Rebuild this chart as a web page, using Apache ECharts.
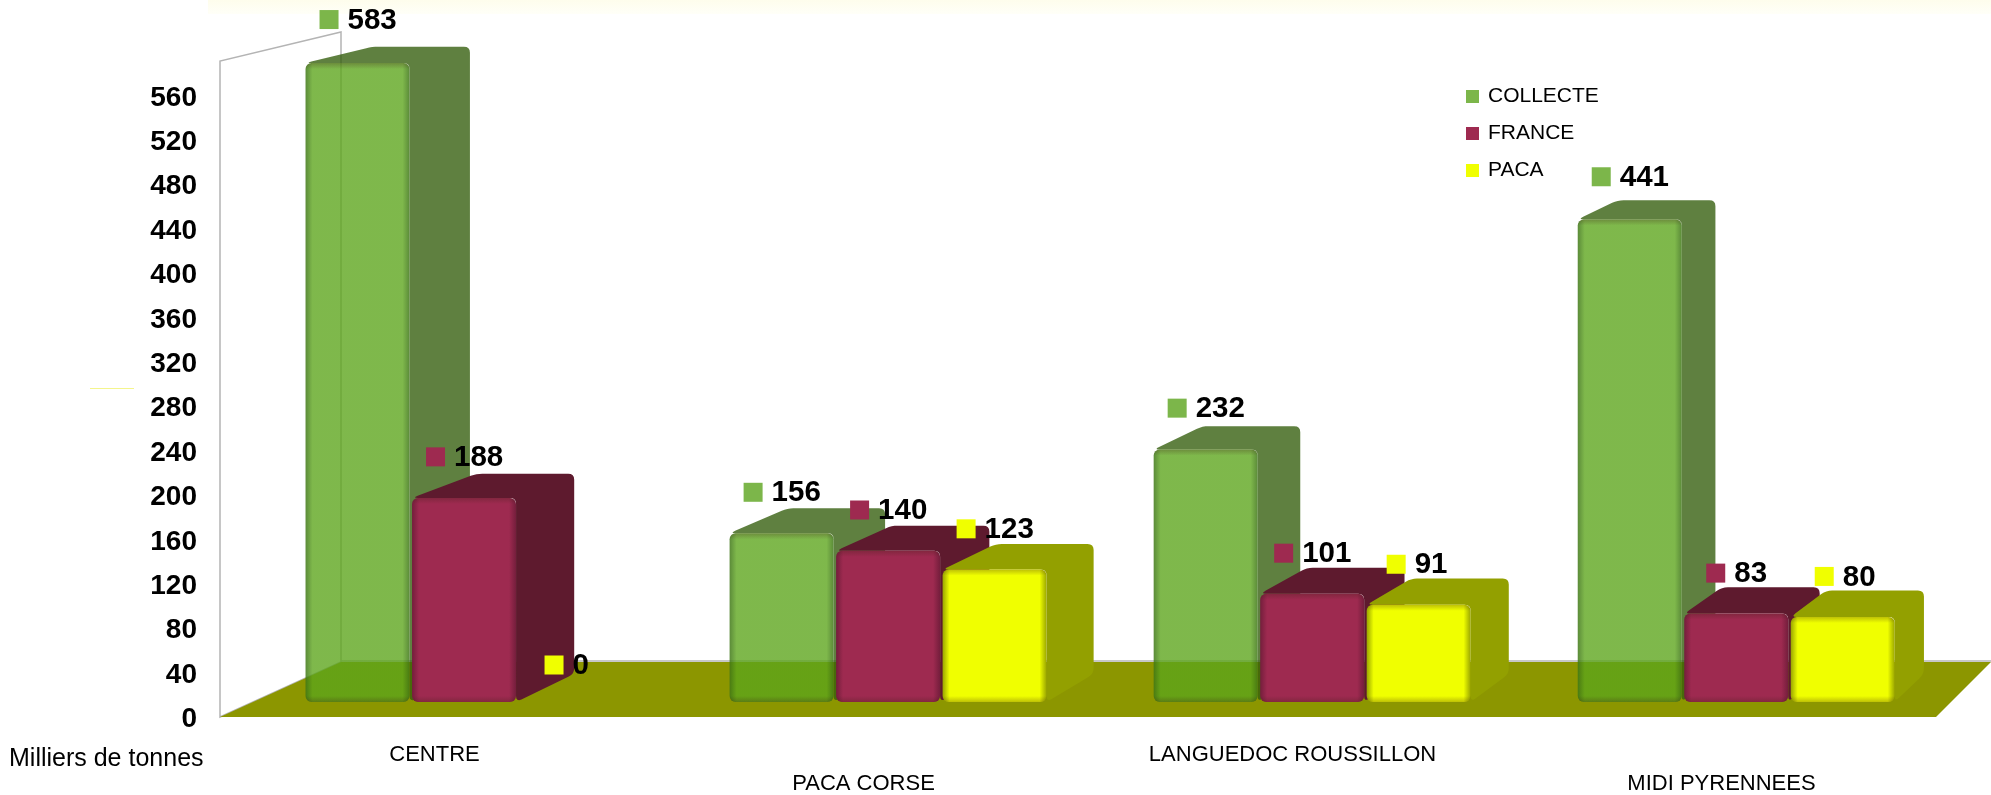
<!DOCTYPE html>
<html>
<head>
<meta charset="utf-8">
<style>
  html, body { margin: 0; padding: 0; background: #fff; }
  #main { width: 1991px; height: 795px; }
</style>
<script src="https://cdn.jsdelivr.net/npm/echarts@6/dist/echarts.min.js"></script>
</head>
<body>
<div id="main"></div>
<script>
const categories = ['CENTRE', 'PACA CORSE', 'LANGUEDOC ROUSSILLON', 'MIDI PYRENNEES']
const collecte = [583, 156, 232, 441]
const france = [188, 140, 101, 83]
const paca = [0, 123, 91, 80]
const yTicks = [0, 40, 80, 120, 160, 200, 240, 280, 320, 360, 400, 440, 480, 520, 560]

const FONT = '"Liberation Sans", Arial, sans-serif'

// face colours per series: front, edge of the front, side + top
const looks = [
    { name: 'COLLECTE', data: collecte, legend: '#7CB64A', front: 'rgba(92,165,27,0.79)', edge: 'rgba(62,118,22,0.85)', side: 'rgba(52,94,13,0.79)' },
    { name: 'FRANCE', data: france, legend: '#9E2A50', front: '#9E2A50', edge: '#741E3C', side: '#5E1A2E' },
    { name: 'PACA', data: paca, legend: '#F0FF00', front: '#F0FF00', edge: '#9AA600', side: '#93A000' },
]

// the bars stand a bit behind the front edge of the floor, so they are slightly smaller
const PLANE = 0.9885
const BAR_W = 104
const BASE_LIFT = 15

function planeX(x, gridLeft) {
    return gridLeft + 32 + (x - gridLeft) * PLANE
}
function depthX(x) {
    return 69 - 0.021 * x
}
function depthY(v) {
    return 28 - 0.02 * v
}

// polygon with small rounded corners
function roundPoly(pts, r) {
    const out = []
    const n = pts.length
    for (let i = 0; i < n; i++) {
        const p = pts[i], a = pts[(i + n - 1) % n], b = pts[(i + 1) % n]
        const la = Math.hypot(a[0] - p[0], a[1] - p[1]), lb = Math.hypot(b[0] - p[0], b[1] - p[1])
        const ra = Math.min(r, la / 2), rb = Math.min(r, lb / 2)
        const s = [p[0] + (a[0] - p[0]) / la * ra, p[1] + (a[1] - p[1]) / la * ra]
        const e = [p[0] + (b[0] - p[0]) / lb * rb, p[1] + (b[1] - p[1]) / lb * rb]
        for (let t = 0; t <= 1.001; t += 0.25) {
            const u = 1 - t
            out.push([u * u * s[0] + 2 * u * t * p[0] + t * t * e[0], u * u * s[1] + 2 * u * t * p[1] + t * t * e[1]])
        }
    }
    return out
}

function barGeom(api, params, s, catIdx, v) {
    const gridLeft = params.coordSys.x
    const c = planeX(api.coord([catIdx, 0])[0], gridLeft)
    const zero = api.coord([catIdx, 0])[1]
    const base = zero - BASE_LIFT
    const top = base - (zero - api.coord([catIdx, v])[1]) * 0.992 + 3
    const left = c - BAR_W / 2 + (s - 1) * 106.5
    const right = left + BAR_W
    return { left, right, top, base, dx: depthX(right), dy: depthY(v) }
}

function renderBar(s) {
    return function (params, api) {
        const v = api.value(1)
        if (v === 0) return { type: 'group', children: [] }
        const g = barGeom(api, params, s, api.value(0), v)
        const look = looks[s]
        const shell = roundPoly([
            [g.left, g.top], [g.left + depthX(g.left) + 4, g.top - g.dy], [g.right + g.dx, g.top - g.dy],
            [g.right + g.dx, g.base - depthY(0)], [g.right, g.base], [g.right, g.top],
        ], 6)
        const h = g.base - g.top
        const fade = 7 / BAR_W, fadeY = 6 / h
        return {
            type: 'group',
            children: [
                { type: 'polygon', shape: { points: shell }, style: { fill: look.side } },
                {
                    type: 'rect',
                    shape: { x: g.left, y: g.top, width: BAR_W, height: h, r: 6 },
                    style: {
                        fill: {
                            type: 'linear', x: 0, y: 0, x2: 1, y2: 0,
                            colorStops: [
                                { offset: 0, color: look.edge }, { offset: fade, color: look.front },
                                { offset: 1 - fade, color: look.front }, { offset: 1, color: look.edge },
                            ],
                        },
                    },
                },
                {
                    type: 'rect',
                    shape: { x: g.left, y: g.top, width: BAR_W, height: h, r: 6 },
                    style: {
                        fill: {
                            type: 'linear', x: 0, y: 0, x2: 0, y2: 1,
                            colorStops: [
                                { offset: 0, color: 'rgba(60,30,20,0.28)' }, { offset: fadeY, color: 'rgba(60,30,20,0)' },
                                { offset: 1 - fadeY, color: 'rgba(60,30,20,0)' }, { offset: 1, color: 'rgba(60,30,20,0.28)' },
                            ],
                        },
                    },
                },
            ],
        }
    }
}

// red and yellow labels drift right of their bars further along the chart
const labelNudge = { '0-2': 12, '2-2': 6, '3-1': 8, '3-2': 10 }

function renderLabel(s) {
    return function (params, api) {
        const catIdx = api.value(0), v = api.value(1)
        const g = barGeom(api, params, s, catIdx, v)
        const mx = g.left + 14 + (labelNudge[catIdx + '-' + s] || 0)
        const my = g.top - g.dy - 12 - 0.026 * v
        return {
            type: 'group',
            children: [
                { type: 'rect', shape: { x: mx, y: my - 9.5, width: 19, height: 19 }, style: { fill: looks[s].legend } },
                {
                    type: 'text',
                    style: {
                        x: mx + 28, y: my + 1, text: String(v), fill: '#000',
                        font: 'bold 29.5px ' + FONT, textVerticalAlign: 'middle', textAlign: 'left',
                    },
                },
            ],
        }
    }
}

function renderScene(params, api) {
    const x = params.coordSys.x, w = params.coordSys.width
    const y0 = api.coord([0, 0])[1]
    const backY = y0 - 55
    const wall = [[x, y0], [x, 61], [x + 121, 32], [x + 121, backY]]
    return {
        type: 'group',
        children: [
            { type: 'polygon', shape: { points: wall }, style: { fill: '#fff', stroke: '#B4B4B4', lineWidth: 1.5 } },
            { type: 'line', shape: { x1: x + 121, y1: backY - 1, x2: 1991, y2: backY - 1 }, style: { stroke: '#B4B4B4', lineWidth: 1.5 } },
            {
                type: 'polygon',
                shape: { points: [[x, y0], [x + w, y0], [x + w + 55, backY], [x + 121, backY]] },
                style: { fill: '#8C9600' },
            },
        ],
    }
}

const chart = echarts.init(document.getElementById('main'))

const barSeries = looks.map((look, s) => ({
    name: look.name,
    type: 'custom',
    renderItem: renderBar(s),
    itemStyle: { color: look.legend },
    encode: { x: 0, y: 1 },
    data: look.data.map((v, i) => [i, v]),
    z: 3 + s,
    silent: true,
}))

const labelSeries = looks.map((look, s) => ({
    name: look.name + ' labels',
    type: 'custom',
    renderItem: renderLabel(s),
    encode: { x: 0, y: 1 },
    data: look.data.map((v, i) => [i, v]),
    z: 10,
    silent: true,
}))

chart.setOption({
    animation: false,
    backgroundColor: '#fff',
    textStyle: { fontFamily: FONT },
    grid: { left: 220, right: 55, top: 51, bottom: 78, containLabel: false, outerBoundsMode: 'none' },
    legend: {
        data: looks.map(l => l.name),
        orient: 'vertical',
        left: 1466,
        top: 86,
        padding: 0,
        icon: 'rect',
        itemWidth: 13,
        itemHeight: 13,
        itemGap: 16,
        selectedMode: false,
        textStyle: { fontSize: 21, color: '#000', fontFamily: FONT, padding: [0, 0, 0, 4] },
    },
    xAxis: {
        type: 'category',
        data: categories,
        axisLine: { show: false },
        axisTick: { show: false },
        axisLabel: {
            interval: 0,
            fontSize: 22,
            color: '#000',
            margin: 23,
            lineHeight: 29,
            // every second name sits one line lower
            formatter: (name, i) => (i % 2 ? '\n' + name : name),
        },
    },
    yAxis: {
        type: 'value',
        min: 0,
        max: 600,
        interval: 40,
        splitLine: { show: false },
        axisLine: { show: false },
        axisTick: { show: false },
        axisLabel: {
            showMaxLabel: false,
            margin: 23,
            fontSize: 28,
            fontWeight: 'bold',
            color: '#000',
            // top aligned on a thin line box: sits about 2px under the tick
            verticalAlign: 'top',
            lineHeight: 5,
            formatter: v => (yTicks.includes(v) ? String(v) : ''),
        },
    },
    graphic: [
        { type: 'text', left: 9, top: 747, style: { text: 'Milliers de tonnes', fill: '#000', font: '25px ' + FONT } },
        {
            type: 'rect', shape: { x: 208, y: 0, width: 1783, height: 14 }, z: 0,
            style: {
                fill: {
                    type: 'linear', x: 0, y: 0, x2: 0, y2: 1,
                    colorStops: [{ offset: 0, color: '#FEFDEC' }, { offset: 1, color: '#FFFFF8' }],
                },
            },
        },
        { type: 'rect', shape: { x: 90, y: 388, width: 44, height: 1 }, style: { fill: '#F4F58C' }, z: 0 },
    ],
    series: [
        { type: 'custom', name: 'scene', renderItem: renderScene, data: [[0, 0]], encode: { x: 0, y: 1 }, z: 1, silent: true },
        ...barSeries,
        ...labelSeries,
    ],
})
</script>
</body>
</html>
